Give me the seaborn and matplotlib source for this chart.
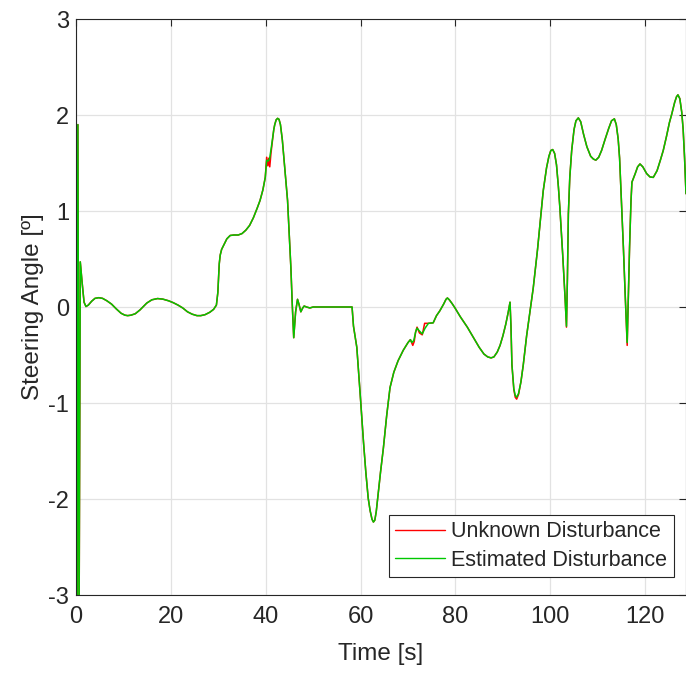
import numpy as np
import pandas as pd
import matplotlib
matplotlib.use("Agg")
import matplotlib.pyplot as plt
import seaborn as sns

# ---------------- data ----------------
time_est = [0.0, 0.15, 0.4, 0.65, 0.9, 1.3, 1.7, 2.1, 2.6, 3.3, 4.0, 4.8, 5.6, 6.5, 7.5, 8.5,
            9.5, 10.3, 10.9, 11.6, 12.5, 13.5, 14.5, 14.9, 15.2, 16.0, 17.2, 18.3, 19.5, 20.5,
            21.5, 22.5, 23.5, 24.5, 25.5, 26.3, 27.2, 28.2, 29.0, 29.6, 29.9, 30.2, 30.4, 30.7,
            31.2, 31.8, 32.5, 33.3, 34.2, 35.0, 35.8, 36.6, 37.4, 38.2, 38.8, 39.4, 39.9, 40.2,
            40.5, 40.8, 41.2, 41.7, 41.9, 42.2, 42.5, 42.8, 43.1, 43.5, 44.0, 44.6, 45.0, 45.3,
            45.6, 45.9, 46.3, 46.7, 47.0, 47.4, 47.8, 48.1, 48.6, 49.3, 50.0, 58.2, 58.5, 59.2,
            59.9, 60.6, 61.1, 61.6, 62.0, 62.4, 62.7, 63.0, 63.3, 63.7, 64.2, 64.8, 65.5, 66.2,
            67.0, 67.9, 69.0, 70.0, 70.5, 70.8, 71.2, 71.6, 71.9, 72.4, 73.0, 73.6, 74.3, 75.3,
            76.0, 76.7, 77.5, 78.0, 78.3, 78.7, 79.3, 79.9, 81.0, 82.5, 83.8, 85.0, 86.0, 86.8,
            87.5, 88.1, 88.8, 89.4, 90.0, 90.6, 91.1, 91.5, 91.7, 91.9, 92.3, 92.6, 92.9, 93.3,
            93.8, 94.3, 95.0, 95.7, 96.4, 97.3, 98.0, 98.5, 99.2, 99.7, 100.1, 100.5, 100.9, 101.3,
            101.7, 102.0, 102.6, 103.1, 103.4, 103.6, 103.8, 104.1, 104.5, 105.0, 105.4, 105.9,
            106.4, 107.0, 107.7, 108.5, 109.1, 109.6, 110.2, 110.8, 111.5, 112.3, 112.9, 113.5,
            113.9, 114.3, 114.6, 114.9, 115.4, 115.8, 116.2, 116.5, 116.7, 117.0, 117.2, 117.9,
            118.4, 118.9, 119.5, 120.3, 121.0, 121.7, 122.5, 123.2, 123.8, 124.5, 125.1, 125.6,
            126.2, 126.6, 126.9, 127.3, 127.7, 128.0, 128.3, 128.6]

angle_est = [0.0, -3.3, 1.90, -3.3, 0.47, 0.25, 0.05, 0.005, 0.02, 0.06, 0.09, 0.097, 0.09, 0.065,
             0.03, -0.02, -0.065, -0.085, -0.09, -0.085, -0.07, -0.03, 0.02, 0.04, 0.05, 0.075,
             0.088, 0.082, 0.065, 0.045, 0.02, -0.01, -0.05, -0.075, -0.09, -0.09, -0.08, -0.055,
             -0.025, 0.02, 0.15, 0.45, 0.54, 0.60, 0.65, 0.71, 0.745, 0.75, 0.75, 0.765, 0.80,
             0.85, 0.93, 1.03, 1.11, 1.22, 1.35, 1.53, 1.52, 1.54, 1.67, 1.85, 1.90, 1.95, 1.965,
             1.955, 1.90, 1.74, 1.45, 1.11, 0.70, 0.41, 0.02, -0.32, -0.05, 0.08, 0.03, -0.05,
             -0.01, 0.01, 0.0, -0.01, 0.0, 0.0, -0.2, -0.42, -0.9, -1.40, -1.72, -1.99, -2.12,
             -2.21, -2.24, -2.22, -2.13, -1.95, -1.72, -1.47, -1.13, -0.84, -0.68, -0.56, -0.45,
             -0.37, -0.34, -0.37, -0.35, -0.26, -0.22, -0.25, -0.28, -0.22, -0.17, -0.165, -0.09,
             -0.04, 0.03, 0.08, 0.094, 0.075, 0.035, -0.01, -0.10, -0.21, -0.32, -0.42, -0.49,
             -0.52, -0.53, -0.52, -0.47, -0.40, -0.30, -0.18, -0.06, 0.05, -0.2, -0.6, -0.85,
             -0.92, -0.94, -0.90, -0.78, -0.60, -0.30, -0.05, 0.20, 0.60, 0.95, 1.21, 1.45, 1.57,
             1.63, 1.64, 1.60, 1.48, 1.25, 1.04, 0.55, 0.10, -0.20, 0.30, 0.97, 1.35, 1.63, 1.85,
             1.94, 1.97, 1.93, 1.80, 1.67, 1.57, 1.54, 1.53, 1.56, 1.63, 1.74, 1.86, 1.94, 1.96,
             1.90, 1.75, 1.55, 1.20, 0.62, 0.10, -0.37, 0.20, 0.62, 1.10, 1.30, 1.39, 1.46, 1.49,
             1.46, 1.39, 1.355, 1.35, 1.42, 1.53, 1.63, 1.78, 1.92, 2.01, 2.13, 2.19, 2.21, 2.17,
             2.03, 1.85, 1.55, 1.18]

time_unk = [0.0, 0.15, 0.4, 0.65, 0.9, 1.3, 1.7, 2.1, 2.6, 3.3, 4.0, 4.8, 5.6, 6.5, 7.5, 8.5,
            9.5, 10.3, 10.9, 11.6, 12.5, 13.5, 14.5, 14.9, 15.2, 16.0, 17.2, 18.3, 19.5, 20.5,
            21.5, 22.5, 23.5, 24.5, 25.5, 26.3, 27.2, 28.2, 29.0, 29.6, 29.9, 30.2, 30.4, 30.7,
            31.2, 31.8, 32.5, 33.3, 34.2, 35.0, 35.8, 36.6, 37.4, 38.2, 38.8, 39.4, 39.9, 40.2,
            40.45, 40.65, 40.85, 41.1, 41.7, 41.9, 42.2, 42.5, 42.8, 43.1, 43.5, 44.0, 44.6, 45.0,
            45.3, 45.6, 45.9, 46.3, 46.7, 47.0, 47.4, 47.8, 48.1, 48.6, 49.3, 50.0, 58.2, 58.5,
            59.2, 59.9, 60.6, 61.1, 61.6, 62.0, 62.4, 62.7, 63.0, 63.3, 63.7, 64.2, 64.8, 65.5,
            66.2, 67.0, 67.9, 69.0, 70.0, 70.5, 71.0, 71.3, 71.6, 71.9, 72.4, 73.0, 73.5, 74.3,
            75.3, 76.0, 76.7, 77.5, 78.0, 78.3, 78.7, 79.3, 79.9, 81.0, 82.5, 83.8, 85.0, 86.0,
            86.8, 87.5, 88.1, 88.8, 89.4, 90.0, 90.6, 91.1, 91.5, 91.7, 91.9, 92.3, 92.6, 92.9,
            93.3, 93.8, 94.3, 95.0, 95.7, 96.4, 97.3, 98.0, 98.5, 99.2, 99.7, 100.1, 100.5, 100.9,
            101.3, 101.7, 102.0, 102.6, 103.1, 103.4, 103.6, 103.8, 104.1, 104.5, 105.0, 105.4,
            105.9, 106.4, 107.0, 107.7, 108.5, 109.1, 109.6, 110.2, 110.8, 111.5, 112.3, 112.9,
            113.5, 113.9, 114.3, 114.6, 114.9, 115.4, 115.8, 116.2, 116.5, 116.7, 117.0, 117.2,
            117.9, 118.4, 118.9, 119.5, 120.3, 121.0, 121.7, 122.5, 123.2, 123.8, 124.5, 125.1,
            125.6, 126.2, 126.6, 126.9, 127.3, 127.7, 128.0, 128.3, 128.6]

angle_unk = [0.0, -3.3, 1.90, -3.3, 0.47, 0.25, 0.05, 0.005, 0.02, 0.06, 0.09, 0.097, 0.09, 0.065,
             0.03, -0.02, -0.065, -0.085, -0.09, -0.085, -0.07, -0.03, 0.02, 0.04, 0.05, 0.075,
             0.088, 0.082, 0.065, 0.045, 0.02, -0.01, -0.05, -0.075, -0.09, -0.09, -0.08, -0.055,
             -0.025, 0.02, 0.15, 0.45, 0.54, 0.60, 0.65, 0.71, 0.745, 0.75, 0.75, 0.765, 0.80,
             0.85, 0.93, 1.03, 1.11, 1.22, 1.35, 1.56, 1.47, 1.55, 1.46, 1.60, 1.85, 1.90, 1.95,
             1.965, 1.955, 1.90, 1.74, 1.45, 1.11, 0.70, 0.41, 0.02, -0.32, -0.05, 0.08, 0.03,
             -0.05, -0.01, 0.01, 0.0, -0.01, 0.0, 0.0, -0.2, -0.42, -0.9, -1.40, -1.72, -1.99,
             -2.12, -2.21, -2.24, -2.22, -2.13, -1.95, -1.72, -1.47, -1.13, -0.84, -0.68, -0.56,
             -0.45, -0.37, -0.34, -0.40, -0.36, -0.26, -0.21, -0.27, -0.29, -0.17, -0.17, -0.165,
             -0.09, -0.04, 0.03, 0.08, 0.094, 0.075, 0.035, -0.01, -0.10, -0.21, -0.32, -0.42,
             -0.49, -0.52, -0.53, -0.52, -0.47, -0.40, -0.30, -0.18, -0.06, 0.05, -0.2, -0.6,
             -0.86, -0.94, -0.96, -0.91, -0.78, -0.60, -0.30, -0.05, 0.20, 0.60, 0.95, 1.21, 1.45,
             1.57, 1.63, 1.64, 1.60, 1.48, 1.25, 1.04, 0.55, 0.10, -0.21, 0.30, 0.97, 1.35, 1.63,
             1.85, 1.94, 1.97, 1.93, 1.80, 1.67, 1.57, 1.54, 1.53, 1.56, 1.63, 1.74, 1.86, 1.94,
             1.96, 1.90, 1.75, 1.55, 1.20, 0.62, 0.10, -0.40, 0.20, 0.62, 1.10, 1.30, 1.39, 1.46,
             1.49, 1.46, 1.39, 1.355, 1.35, 1.42, 1.53, 1.63, 1.78, 1.92, 2.01, 2.13, 2.19, 2.21,
             2.17, 2.03, 1.85, 1.55, 1.18]

x_ticks = [0, 20, 40, 60, 80, 100, 120]
y_ticks = [-3, -2, -1, 0, 1, 2, 3]
series_names = ["Unknown Disturbance", "Estimated Disturbance"]

# ---------------- plot ----------------
sns.set_style("white")
plt.rcParams["font.family"] = ["Liberation Sans", "DejaVu Sans"]

fig = plt.figure(figsize=(6.86, 6.74), dpi=100)
ax = fig.add_axes([76 / 686, 1 - 595 / 674, 610 / 686, 576 / 674])

df_unk = pd.DataFrame({"t": time_unk, "v": angle_unk})
df_est = pd.DataFrame({"t": time_est, "v": angle_est})

sns.lineplot(data=df_unk, x="t", y="v", color="#ff0000", lw=1.1, sort=False,
             estimator=None, label=series_names[0], ax=ax)
sns.lineplot(data=df_est, x="t", y="v", color="#00c800", lw=1.1, sort=False,
             estimator=None, label=series_names[1], ax=ax)

ax.set_xlim(0, 128.6)
ax.set_ylim(-3, 3)
ax.set_xticks(x_ticks)
ax.set_yticks(y_ticks)
ax.set_xticklabels([str(v) for v in x_ticks])
ax.set_yticklabels([str(v) for v in y_ticks])

ax.grid(True, color="#e2e2e2", lw=0.9)
ax.set_axisbelow(True)
for s in ax.spines.values():
    s.set_visible(True)
    s.set_color("#262626")
    s.set_linewidth(0.8)

ax.tick_params(direction="in", length=5, width=0.8, top=True, right=True,
               labelsize=17, colors="#262626")
ax.tick_params(axis="x", pad=8)
ax.tick_params(axis="y", pad=5)

ax.set_xlabel("Time [s]", fontsize=17.5, color="#262626", labelpad=11)
ax.set_ylabel("Steering Angle [º]", fontsize=17.5, color="#262626", labelpad=3)

leg = ax.legend(loc="lower right", bbox_to_anchor=(0.980, 0.031), borderaxespad=0,
                fontsize=15.5, frameon=True, fancybox=False, framealpha=1,
                edgecolor="#262626", handlelength=2.3, handletextpad=0.3,
                labelspacing=0.35, borderpad=0.3)
leg.get_frame().set_linewidth(0.8)
for line in leg.get_lines():
    line.set_linewidth(1.0)

fig.savefig("out.png", dpi=100)
